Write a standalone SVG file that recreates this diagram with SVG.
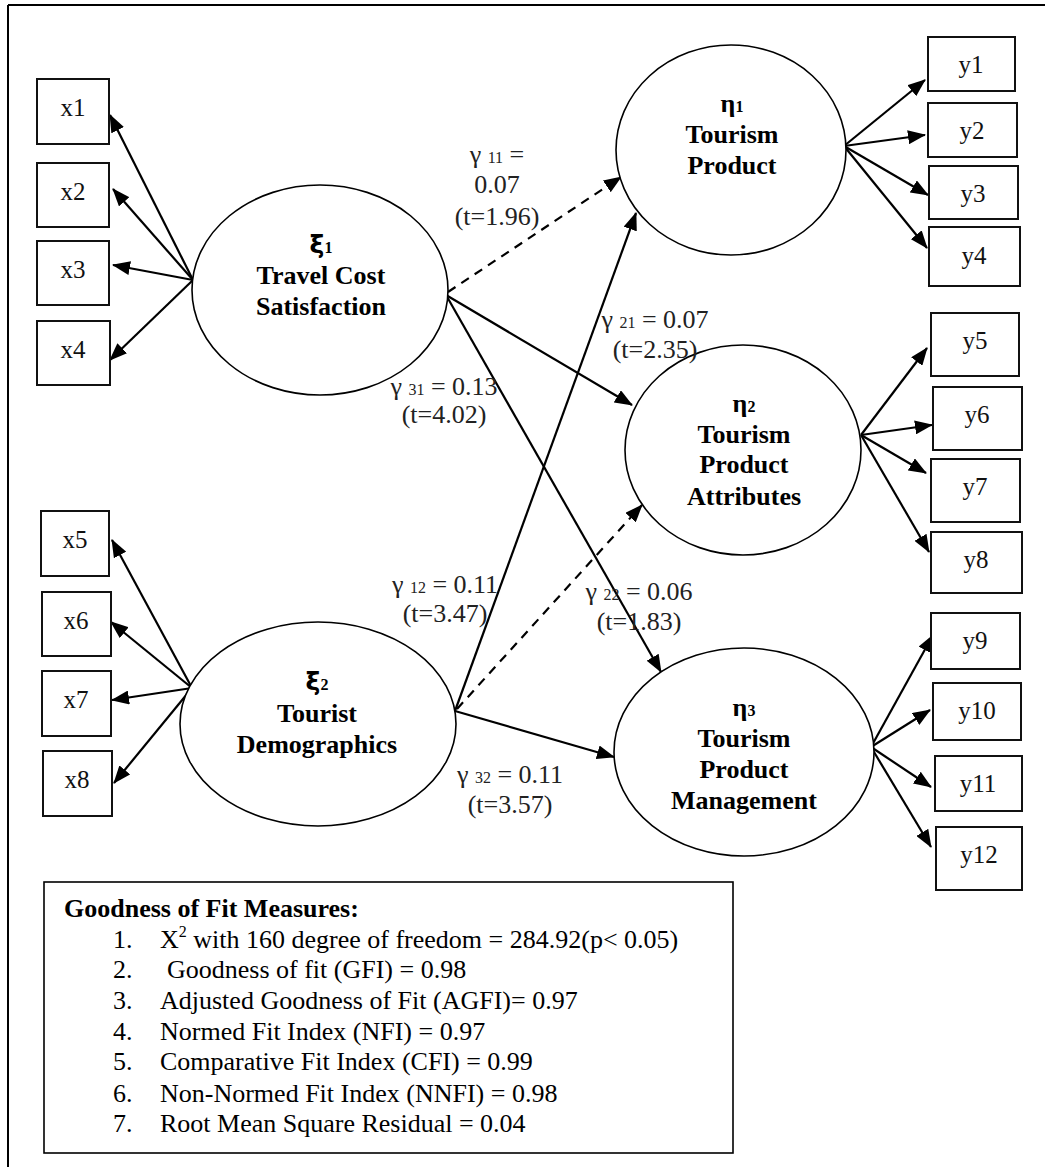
<svg xmlns="http://www.w3.org/2000/svg" width="1045" height="1167" viewBox="0 0 1045 1167">
<defs>
<marker id="arr" markerUnits="userSpaceOnUse" markerWidth="19" markerHeight="14" refX="17" refY="7" orient="auto">
<path d="M0,0 L18,7 L0,14 z" fill="#000"/>
</marker>
<style>
.box{fill:#fff;stroke:#111;stroke-width:2}
.ell{fill:#fff;stroke:#000;stroke-width:1.6}
.c{stroke:#000;stroke-width:2.2;fill:none;marker-end:url(#arr)}
.d{stroke-dasharray:9,7}
.bt{font-family:"Liberation Serif","Times New Roman",serif;font-size:25px;fill:#111;text-anchor:middle}
.nt{font-family:"Liberation Serif","Times New Roman",serif;font-size:26px;font-weight:bold;fill:#000;text-anchor:middle}
.gk{font-family:"DejaVu Sans",sans-serif;font-size:25px;font-weight:bold}
.sub{font-size:16px}
.el{font-family:"Liberation Serif","Times New Roman",serif;font-size:26px;fill:#222;text-anchor:middle}
.gf{font-family:"Liberation Serif","Times New Roman",serif;font-size:26px;fill:#000}
</style>
</defs>
<rect width="1045" height="1167" fill="#fff"/>
<g id="frame" stroke="#000" stroke-width="2" fill="none">
<line x1="8" y1="5" x2="1045" y2="5"/>
<line x1="8" y1="5" x2="8" y2="1167"/>
</g>

<g id="connectors">
<line class="c" x1="193" y1="280" x2="110" y2="115"/>
<line class="c" x1="193" y1="280" x2="113" y2="189"/>
<line class="c" x1="193" y1="280" x2="113" y2="265"/>
<line class="c" x1="193" y1="280" x2="110" y2="360"/>
<line class="c" x1="192" y1="688" x2="112" y2="540"/>
<line class="c" x1="192" y1="688" x2="111" y2="622"/>
<line class="c" x1="192" y1="688" x2="112" y2="700"/>
<line class="c" x1="192" y1="688" x2="114" y2="783"/>
<line class="c" x1="844" y1="146" x2="925" y2="80"/>
<line class="c" x1="844" y1="146" x2="925" y2="135"/>
<line class="c" x1="844" y1="146" x2="928" y2="195"/>
<line class="c" x1="844" y1="146" x2="927" y2="248"/>
<line class="c" x1="861" y1="435" x2="927" y2="348"/>
<line class="c" x1="861" y1="435" x2="932" y2="425"/>
<line class="c" x1="861" y1="435" x2="926" y2="473"/>
<line class="c" x1="861" y1="435" x2="929" y2="552"/>
<line class="c" x1="871" y1="747" x2="933" y2="635"/>
<line class="c" x1="871" y1="747" x2="930" y2="710"/>
<line class="c" x1="871" y1="747" x2="931" y2="787"/>
<line class="c" x1="871" y1="747" x2="931" y2="847"/>
<line class="c d" x1="448" y1="292" x2="621" y2="177"/>
<line class="c" x1="446" y1="295" x2="632" y2="405"/>
<line class="c" x1="446" y1="295" x2="661" y2="672"/>
<line class="c" x1="455" y1="711" x2="636" y2="213"/>
<line class="c d" x1="457" y1="709" x2="642" y2="505"/>
<line class="c" x1="455" y1="711" x2="614" y2="757"/>
</g>

<g id="x1"><rect class="box" x="37" y="79" width="72" height="65"/><text class="bt" x="73" y="116">x1</text></g>
<g id="x2"><rect class="box" x="37" y="163" width="72" height="64"/><text class="bt" x="73" y="200">x2</text></g>
<g id="x3"><rect class="box" x="37" y="241" width="72" height="64"/><text class="bt" x="73" y="278">x3</text></g>
<g id="x4"><rect class="box" x="37" y="321" width="73" height="64"/><text class="bt" x="73" y="358">x4</text></g>
<g id="x5"><rect class="box" x="41" y="511" width="68" height="65"/><text class="bt" x="75" y="548">x5</text></g>
<g id="x6"><rect class="box" x="42" y="592" width="69" height="64"/><text class="bt" x="76" y="629">x6</text></g>
<g id="x7"><rect class="box" x="42" y="671" width="69" height="65"/><text class="bt" x="76" y="708">x7</text></g>
<g id="x8"><rect class="box" x="43" y="751" width="69" height="65"/><text class="bt" x="77" y="788">x8</text></g>

<g id="y1"><rect class="box" x="928" y="37" width="87" height="54"/><text class="bt" x="971" y="73">y1</text></g>
<g id="y2"><rect class="box" x="928" y="103" width="89" height="54"/><text class="bt" x="972" y="139">y2</text></g>
<g id="y3"><rect class="box" x="929" y="166" width="89" height="53"/><text class="bt" x="973" y="202">y3</text></g>
<g id="y4"><rect class="box" x="929" y="227" width="91" height="59"/><text class="bt" x="974" y="264">y4</text></g>
<g id="y5"><rect class="box" x="931" y="313" width="88" height="63"/><text class="bt" x="975" y="349">y5</text></g>
<g id="y6"><rect class="box" x="933" y="387" width="89" height="63"/><text class="bt" x="977" y="423">y6</text></g>
<g id="y7"><rect class="box" x="931" y="459" width="89" height="63"/><text class="bt" x="975" y="495">y7</text></g>
<g id="y8"><rect class="box" x="931" y="532" width="91" height="61"/><text class="bt" x="976" y="568">y8</text></g>
<g id="y9"><rect class="box" x="931" y="613" width="89" height="56"/><text class="bt" x="975" y="649">y9</text></g>
<g id="y10"><rect class="box" x="933" y="683" width="88" height="57"/><text class="bt" x="977" y="719">y10</text></g>
<g id="y11"><rect class="box" x="935" y="756" width="87" height="55"/><text class="bt" x="978" y="792">y11</text></g>
<g id="y12"><rect class="box" x="936" y="827" width="86" height="63"/><text class="bt" x="979" y="863">y12</text></g>

<g id="xi1">
<ellipse class="ell" cx="320" cy="290" rx="128" ry="105"/>
<text class="nt" x="321" y="253"><tspan class="gk">ξ</tspan><tspan class="sub">1</tspan></text>
<text class="nt" x="321" y="284">Travel Cost</text>
<text class="nt" x="321" y="315">Satisfaction</text>
</g>
<g id="xi2">
<ellipse class="ell" cx="318" cy="724" rx="138" ry="102"/>
<text class="nt" x="317" y="690"><tspan class="gk">ξ</tspan><tspan class="sub">2</tspan></text>
<text class="nt" x="317" y="722">Tourist</text>
<text class="nt" x="317" y="753">Demographics</text>
</g>
<g id="eta1">
<ellipse class="ell" cx="731" cy="150" rx="115" ry="105"/>
<text class="nt" x="732" y="112">η<tspan class="sub">1</tspan></text>
<text class="nt" x="732" y="143">Tourism</text>
<text class="nt" x="732" y="174">Product</text>
</g>
<g id="eta2">
<ellipse class="ell" cx="743" cy="450" rx="118" ry="105"/>
<text class="nt" x="744" y="412">η<tspan class="sub">2</tspan></text>
<text class="nt" x="744" y="443">Tourism</text>
<text class="nt" x="744" y="473">Product</text>
<text class="nt" x="744" y="505">Attributes</text>
</g>
<g id="eta3">
<ellipse class="ell" cx="744" cy="752" rx="130" ry="104"/>
<text class="nt" x="744" y="716">η<tspan class="sub">3</tspan></text>
<text class="nt" x="744" y="747">Tourism</text>
<text class="nt" x="744" y="778">Product</text>
<text class="nt" x="744" y="809">Management</text>
</g>

<g id="edge-labels">
<text class="el" x="497" y="163">γ <tspan class="sub">11</tspan> =</text>
<text class="el" x="497" y="193">0.07</text>
<text class="el" x="497" y="225">(t=1.96)</text>
<text class="el" x="655" y="328">γ <tspan class="sub">21</tspan> = 0.07</text>
<text class="el" x="655" y="358">(t=2.35)</text>
<text class="el" x="444" y="395">γ <tspan class="sub">31</tspan> = 0.13</text>
<text class="el" x="444" y="423">(t=4.02)</text>
<text class="el" x="445" y="593">γ <tspan class="sub">12</tspan> = 0.11</text>
<text class="el" x="445" y="622">(t=3.47)</text>
<text class="el" x="639" y="600">γ <tspan class="sub">22</tspan> = 0.06</text>
<text class="el" x="639" y="630">(t=1.83)</text>
<text class="el" x="510" y="783">γ <tspan class="sub">32</tspan> = 0.11</text>
<text class="el" x="510" y="813">(t=3.57)</text>
</g>

<g id="fit-measures">
<rect x="44" y="882" width="689" height="271" fill="#fff" stroke="#000" stroke-width="1.6"/>
<text class="gf" x="64" y="917" font-weight="bold">Goodness of Fit Measures:</text>
<text class="gf" x="113" y="948">1.</text>
<text class="gf" x="160" y="948">X<tspan font-size="16" dy="-11">2</tspan><tspan dy="11"> with 160 degree of freedom = 284.92(p&lt; 0.05)</tspan></text>
<text class="gf" x="113" y="978">2.</text>
<text class="gf" x="167" y="978">Goodness of fit (GFI) = 0.98</text>
<text class="gf" x="113" y="1009">3.</text>
<text class="gf" x="160" y="1009">Adjusted Goodness of Fit (AGFI)= 0.97</text>
<text class="gf" x="113" y="1040">4.</text>
<text class="gf" x="160" y="1040">Normed Fit Index (NFI) = 0.97</text>
<text class="gf" x="113" y="1070">5.</text>
<text class="gf" x="160" y="1070">Comparative Fit Index (CFI) = 0.99</text>
<text class="gf" x="113" y="1102">6.</text>
<text class="gf" x="160" y="1102">Non-Normed Fit Index (NNFI) = 0.98</text>
<text class="gf" x="113" y="1132">7.</text>
<text class="gf" x="160" y="1132">Root Mean Square Residual = 0.04</text>
</g>
</svg>
